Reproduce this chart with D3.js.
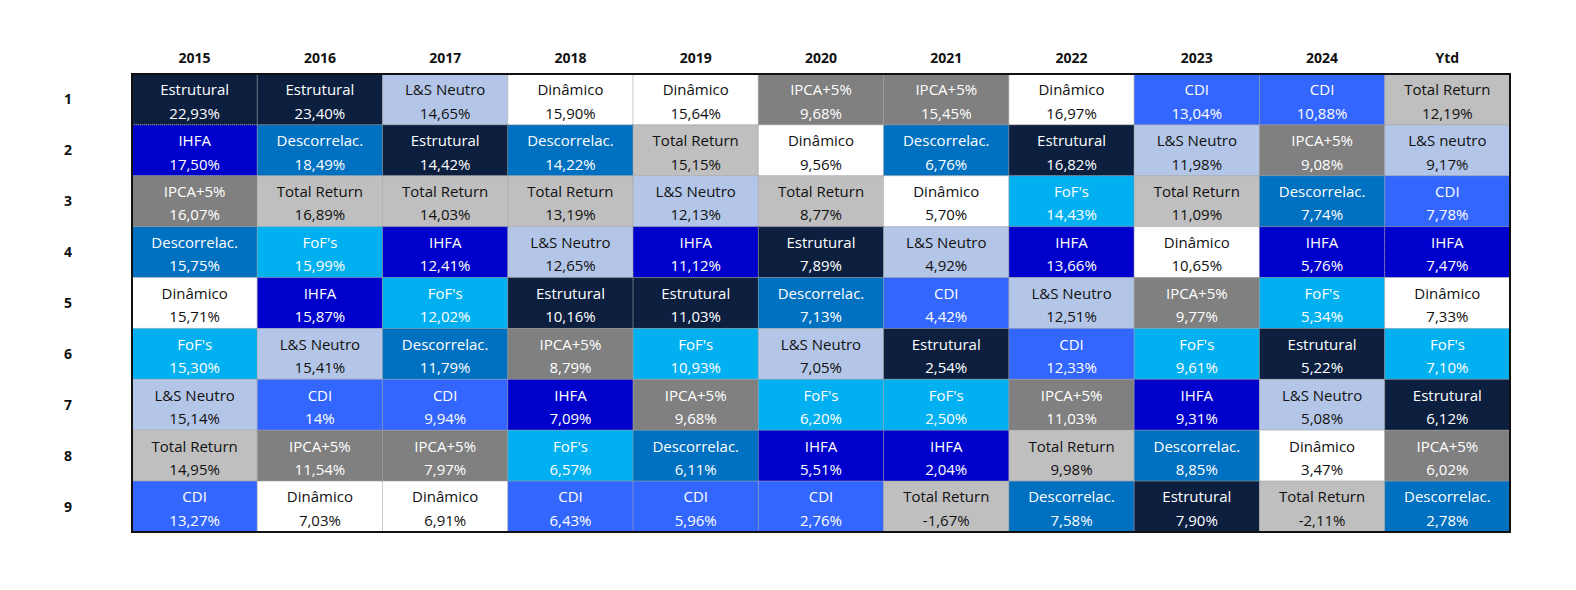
<!DOCTYPE html>
<html><head><meta charset="utf-8">
<script src="https://cdn.jsdelivr.net/npm/d3@7"></script>
<style>body{margin:0;background:#fff;}</style>
</head><body>
<svg id="chart" width="1576" height="590"></svg>
<script>
var years = ['2015','2016','2017','2018','2019','2020','2021','2022','2023','2024','Ytd'];
var ranks = [1,2,3,4,5,6,7,8,9];

// one list per column, ordered by rank
var names = [
  ['Estrutural','IHFA','IPCA+5%','Descorrelac.','Dinâmico',"FoF's",'L&S Neutro','Total Return','CDI'],
  ['Estrutural','Descorrelac.','Total Return',"FoF's",'IHFA','L&S Neutro','CDI','IPCA+5%','Dinâmico'],
  ['L&S Neutro','Estrutural','Total Return','IHFA',"FoF's",'Descorrelac.','CDI','IPCA+5%','Dinâmico'],
  ['Dinâmico','Descorrelac.','Total Return','L&S Neutro','Estrutural','IPCA+5%','IHFA',"FoF's",'CDI'],
  ['Dinâmico','Total Return','L&S Neutro','IHFA','Estrutural',"FoF's",'IPCA+5%','Descorrelac.','CDI'],
  ['IPCA+5%','Dinâmico','Total Return','Estrutural','Descorrelac.','L&S Neutro',"FoF's",'IHFA','CDI'],
  ['IPCA+5%','Descorrelac.','Dinâmico','L&S Neutro','CDI','Estrutural',"FoF's",'IHFA','Total Return'],
  ['Dinâmico','Estrutural',"FoF's",'IHFA','L&S Neutro','CDI','IPCA+5%','Total Return','Descorrelac.'],
  ['CDI','L&S Neutro','Total Return','Dinâmico','IPCA+5%',"FoF's",'IHFA','Descorrelac.','Estrutural'],
  ['CDI','IPCA+5%','Descorrelac.','IHFA',"FoF's",'Estrutural','L&S Neutro','Dinâmico','Total Return'],
  ['Total Return','L&S neutro','CDI','IHFA','Dinâmico',"FoF's",'Estrutural','IPCA+5%','Descorrelac.']
];
var values = [
  ['22,93%','17,50%','16,07%','15,75%','15,71%','15,30%','15,14%','14,95%','13,27%'],
  ['23,40%','18,49%','16,89%','15,99%','15,87%','15,41%','14%','11,54%','7,03%'],
  ['14,65%','14,42%','14,03%','12,41%','12,02%','11,79%','9,94%','7,97%','6,91%'],
  ['15,90%','14,22%','13,19%','12,65%','10,16%','8,79%','7,09%','6,57%','6,43%'],
  ['15,64%','15,15%','12,13%','11,12%','11,03%','10,93%','9,68%','6,11%','5,96%'],
  ['9,68%','9,56%','8,77%','7,89%','7,13%','7,05%','6,20%','5,51%','2,76%'],
  ['15,45%','6,76%','5,70%','4,92%','4,42%','2,54%','2,50%','2,04%','-1,67%'],
  ['16,97%','16,82%','14,43%','13,66%','12,51%','12,33%','11,03%','9,98%','7,58%'],
  ['13,04%','11,98%','11,09%','10,65%','9,77%','9,61%','9,31%','8,85%','7,90%'],
  ['10,88%','9,08%','7,74%','5,76%','5,34%','5,22%','5,08%','3,47%','-2,11%'],
  ['12,19%','9,17%','7,78%','7,47%','7,33%','7,10%','6,12%','6,02%','2,78%']
];

var fills = {
  'Estrutural':'#0c1f3f', 'IHFA':'#0000cc', 'IPCA+5%':'#808080', 'Descorrelac.':'#0070c0',
  'Dinâmico':'#ffffff', "FoF's":'#00b0f0', 'L&S Neutro':'#b4c6e7', 'L&S neutro':'#b4c6e7',
  'Total Return':'#bfbfbf', 'CDI':'#3366ff'
};
var darkText = {'Dinâmico':1, 'L&S Neutro':1, 'L&S neutro':1, 'Total Return':1};

var svg = d3.select('#chart');
var x = d3.scaleBand().domain(years).range([132, 1510]);
var y = d3.scaleBand().domain(ranks).range([74, 532]);

var cells = [];
years.forEach(function(yr, i) {
  ranks.forEach(function(r, j) {
    cells.push({year: yr, rank: r, name: names[i][j], value: values[i][j]});
  });
});

var g = svg.selectAll('g.cell').data(cells).enter().append('g').attr('class','cell')
  .attr('transform', function(d){ return 'translate(' + x(d.year) + ',' + y(d.rank) + ')'; });
g.append('rect')
  .attr('width', x.bandwidth()).attr('height', y.bandwidth())
  .attr('fill', function(d){ return fills[d.name]; })
  .attr('stroke', '#9a9a9a').attr('stroke-width', 0.8).attr('stroke-dasharray', '1,1');
g.append('text').attr('x', x.bandwidth()/2).attr('y', y.bandwidth()*0.34)
  .attr('text-anchor','middle').attr('dominant-baseline','middle')
  .attr('font-family','Open Sans, sans-serif').attr('font-size', 15)
  .attr('fill', function(d){ return darkText[d.name] ? '#111' : '#fff'; })
  .text(function(d){ return d.name; });
g.append('text').attr('x', x.bandwidth()/2).attr('y', y.bandwidth()*0.80)
  .attr('text-anchor','middle').attr('dominant-baseline','middle')
  .attr('font-family','Open Sans, sans-serif').attr('font-size', 15)
  .attr('fill', function(d){ return darkText[d.name] ? '#111' : '#fff'; })
  .text(function(d){ return d.value; });

svg.append('rect').attr('x', 132).attr('y', 74).attr('width', 1378).attr('height', 458)
  .attr('fill','none').attr('stroke','#111').attr('stroke-width', 2);

svg.selectAll('text.year').data(years).enter().append('text').attr('class','year')
  .attr('x', function(d){ return x(d) + x.bandwidth()/2; }).attr('y', 63)
  .attr('text-anchor','middle').attr('font-family','Open Sans, sans-serif')
  .attr('font-weight','bold').attr('font-size', 14).attr('fill','#111').text(function(d){ return d; });

svg.selectAll('text.rank').data(ranks).enter().append('text').attr('class','rank')
  .attr('x', 68).attr('y', function(d){ return y(d) + y.bandwidth()/2 + 5; })
  .attr('text-anchor','middle').attr('font-family','Open Sans, sans-serif')
  .attr('font-weight','bold').attr('font-size', 14).attr('fill','#111').text(function(d){ return d; });
</script>
</body></html>
